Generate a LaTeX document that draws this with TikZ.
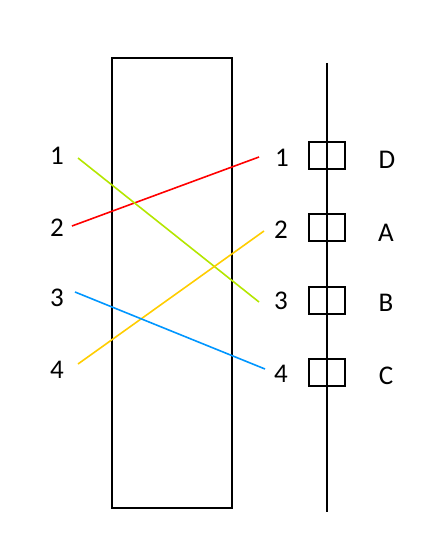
\documentclass[tikz,border=0pt]{standalone}
\usepackage{fontspec}
\setmainfont{Carlito}
\definecolor{lgreen}{RGB}{180,230,0}
\definecolor{lyellow}{RGB}{255,205,0}
\definecolor{lblue}{RGB}{0,150,255}
\begin{document}
\begin{tikzpicture}[x=1pt,y=-1pt,
  lbl/.style={font=\fontsize{27}{30}\selectfont, inner sep=0pt, anchor=center},
  pt/.style={inner sep=0pt, minimum size=0pt},
  wire/.style={line width=1.6pt},
  slot/.style={draw, line width=1.6pt, minimum width=36pt, minimum height=27pt, inner sep=0pt}]
\useasboundingbox (0,0) rectangle (440,540);
\node[draw, line width=1.6pt, minimum width=120pt, minimum height=450pt, inner sep=0pt] (box) at (172,283) {};
\coordinate (top) at (327,63);
\coordinate (bot) at (327,512);
\draw[line width=1.6pt] (top) -- (bot);
\node[slot] (s1) at (327,155.5) {};
\node[slot] (s2) at (327,227.5) {};
\node[slot] (s3) at (327,300.5) {};
\node[slot] (s4) at (327,372.5) {};
\node[lbl] (D) at (387,160) {D};
\node[lbl] (A) at (386,233) {A};
\node[lbl] (B) at (386,303) {B};
\node[lbl] (C) at (386,376) {C};
\node[lbl] (l1) at (57,156) {1};
\node[lbl] (l2) at (57,228) {2};
\node[lbl] (l3) at (57,298) {3};
\node[lbl] (l4) at (57,370) {4};
\node[lbl] (r1) at (282,158) {1};
\node[lbl] (r2) at (281,230) {2};
\node[lbl] (r3) at (281,301) {3};
\node[lbl] (r4) at (281,374) {4};
\coordinate (a1) at (78,158);
\coordinate (a2) at (72,226);
\coordinate (a3) at (75,292);
\coordinate (a4) at (78,364);
\coordinate (b1) at (259,157);
\coordinate (b2) at (264,231);
\coordinate (b3) at (259,302);
\coordinate (b4) at (265,369);
\draw[wire, red] (a2) -- (b1);
\draw[wire, lgreen] (a1) -- (b3);
\draw[wire, lyellow] (a4) -- (b2);
\draw[wire, lblue] (a3) -- (b4);
\end{tikzpicture}
\end{document}
